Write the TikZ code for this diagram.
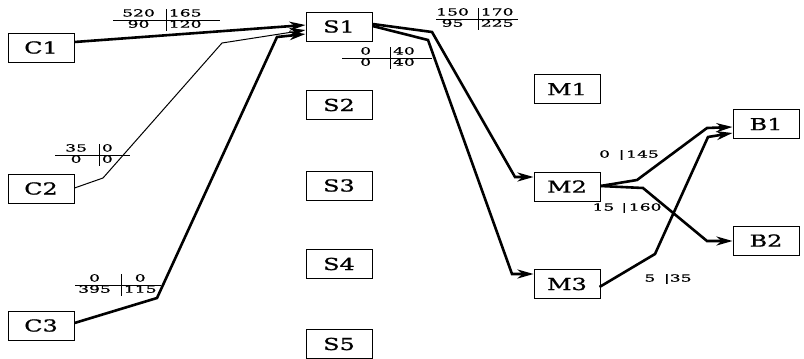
\documentclass[tikz,border=0pt]{standalone}
\usepackage{fontspec}
\setmainfont{DejaVu Serif}[FakeStretch=1.45,FakeBold=1]
\newfontfamily\numfont{DejaVu Serif}[FakeStretch=1.75,FakeBold=1]
\usetikzlibrary{arrows.meta,calc}
\newcommand\tblfont{\numfont\fontsize{9.8}{13}\selectfont}
\newcommand\tbl[9]{\node[anchor=west,inner sep=0pt,font=\tblfont] (#1) at (#2) {\setlength{\arrayrulewidth}{0.8pt}\renewcommand\arraystretch{0.8}\begin{tabular}{@{\hspace{#3pt}}c@{\hspace{#4pt}}|@{\hspace{2.5pt}}c@{\hspace{#5pt}}}#6 & #7\\\hline #8 & #9\end{tabular}};}
\begin{document}
\begin{tikzpicture}[x=1pt,y=-1pt,
  box/.style={draw,line width=1pt,minimum width=66pt,minimum height=29pt,inner sep=0pt,font=\fontsize{16.5}{19}\selectfont},
  thk/.style={line width=2.6pt,-{Stealth[length=16pt,width=9pt,inset=5pt]}},
  thn/.style={line width=1pt,-{Stealth[length=16pt,width=9pt,inset=5pt]}},
  lab/.style={inner sep=0pt,font=\tblfont}]
\useasboundingbox (0,0) rectangle (804,359);
\node[box] (C1) at (41,47.5) {C1};
\node[box] (C2) at (41,188.5) {C2};
\node[box] (C3) at (41,325.5) {C3};
\node[box] (S1) at (339,26.5) {S1};
\node[box] (S2) at (339,105) {S2};
\node[box] (S3) at (339,185.5) {S3};
\node[box] (S4) at (339,264) {S4};
\node[box] (S5) at (339,344) {S5};
\node[box] (M1) at (567,89) {M1};
\node[box] (M2) at (567,186.5) {M2};
\node[box] (M3) at (567,284) {M3};
\node[box] (B1) at (766,124) {B1};
\node[box] (B2) at (766,240.5) {B2};
% C -> S1
\draw[thk] ($(C1.east)+(0,-5.5)$) -- ($(S1.west)+(0,-1.5)$);
\draw[thn] ($(C2.east)+(0,-0.5)$) -- (103,178) -- (222,43) -- ($(S1.west)+(0,3.5)$);
\draw[thk] ($(C3.east)+(0,-2.5)$) -- (157,298) -- (277,37) -- ($(S1.west)+(0,7.5)$);
% S1 -> M
\draw[thk] ($(S1.east)+(0,-2.5)$) -- (432,32) -- (515,177) -- ($(M2.west)+(0,-9.5)$);
\draw[thk] ($(S1.east)+(0,-0.5)$) -- (428,40) -- (512,274) -- ($(M3.west)+(0,-10)$);
% M -> B
\draw[thk] ($(M2.east)+(0,-0.5)$) -- (637,180) -- (707,128) -- ($(B1.west)+(0,3)$);
\draw[thk] ($(M2.east)+(0,-0.5)$) -- (643,188) -- (707,241) -- ($(B2.west)+(0,0.5)$);
\draw[thk] ($(M3.east)+(-1,3)$) -- (655,254) -- (708,137) -- ($(B1.west)+(0,9)$);
% tables
\tbl{T1}{113,20}{9}{11}{18}{520}{165}{90}{120}
\tbl{T2}{55,155}{10}{12}{17}{35}{0}{0}{0}
\tbl{T3}{75,285}{3}{10}{4}{0}{0}{395}{115}
\tbl{T4}{342,58}{18}{19}{17}{0}{40}{0}{40}
\tbl{T5}{436,19}{0}{9}{4}{150}{170}{95}{225}
% labels
\node[lab] (L1) at (629,155) {0\,\, |\,145};
\node[lab] (L2) at (627,208) {15\, |\,160};
\node[lab] (L3) at (668,279) {5\,\, |35};
\end{tikzpicture}
\end{document}
